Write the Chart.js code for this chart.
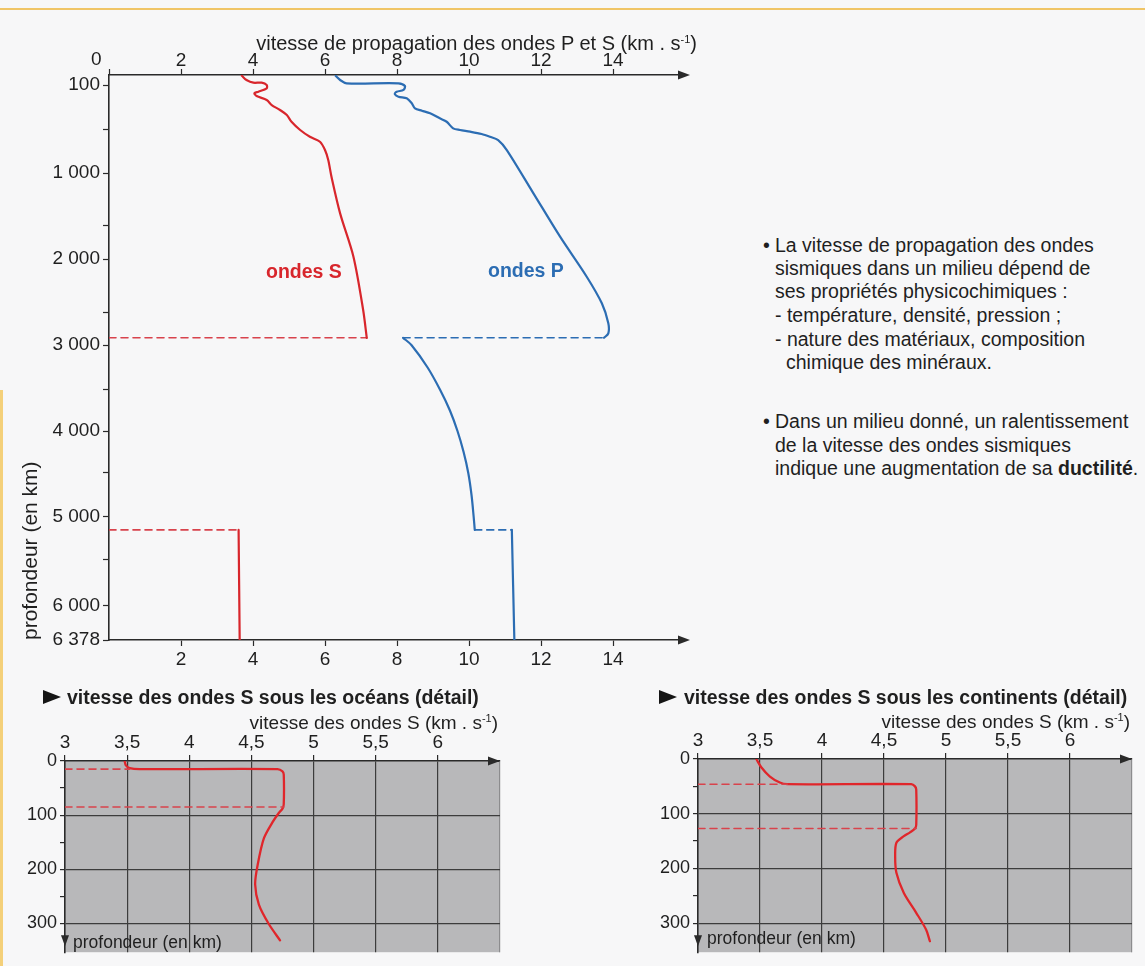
<!DOCTYPE html>
<html lang="fr">
<head>
<meta charset="utf-8">
<title>Vitesse de propagation des ondes sismiques</title>
<script src="https://cdn.jsdelivr.net/npm/chart.js@4.4.1/dist/chart.umd.min.js"></script>
<style>
  html, body { margin: 0; padding: 0; }
  body { position: relative; width: 1145px; height: 966px; overflow: hidden;
         background: #f7f7f8; font-family: "Liberation Sans", Arial, Helvetica, sans-serif; color: #1f1f1f; }
  .rule-top { position: absolute; left: 0; top: 8px; width: 1145px; height: 2px; background: #f0c566; }
  .rule-left { position: absolute; left: 0; top: 390px; width: 3px; height: 576px; background: #f4d07a; }
  canvas { position: absolute; }
  .t { position: absolute; white-space: nowrap; line-height: 24px; height: 24px; }
  .axis-title { font-size: 19px; }
  .axis-title sup { font-size: 11px; vertical-align: 7px; line-height: 0; }
  .main-title { font-size: 20px; }
  .tick { font-size: 19px; }
  .curve-label { font-size: 19.5px; font-weight: bold; }
  .panel-title { font-size: 19.5px; font-weight: bold; }
  .tri { position: absolute; width: 0; height: 0; border-left: 18px solid #151515;
         border-top: 7px solid transparent; border-bottom: 7px solid transparent; }
  .depth-note { font-size: 17.5px; }
  .note { font-size: 19.5px; }
</style>
</head>
<body>
<div class="rule-top"></div>
<div class="rule-left"></div>

<canvas id="mainChart" width="720" height="680" style="left:0;top:0"></canvas>
<canvas id="oceanChart" width="520" height="286" style="left:0;top:680px"></canvas>
<canvas id="continentChart" width="525" height="286" style="left:620px;top:680px"></canvas>

<!-- main profile texts -->
<div class="t axis-title main-title" style="right:448px;top:31px">vitesse de propagation des ondes P et S (km . s<sup>-1</sup>)</div>
<div class="t tick" style="left:91px;top:47px">0</div>
<div class="t curve-label" style="left:266px;top:259px;color:#d8262c">ondes S</div>
<div class="t curve-label" style="left:488px;top:258px;color:#2c6db3">ondes P</div>

<!-- notes -->
<div class="t note" style="left:763px;top:233px">•</div>
<div class="t note" style="left:775px;top:233px">La vitesse de propagation des ondes</div>
<div class="t note" style="left:775px;top:256px">sismiques dans un milieu dépend de</div>
<div class="t note" style="left:775px;top:279px">ses propriétés physicochimiques :</div>
<div class="t note" style="left:775px;top:303px">- température, densité, pression ;</div>
<div class="t note" style="left:775px;top:327px">- nature des matériaux, composition</div>
<div class="t note" style="left:786px;top:350px">chimique des minéraux.</div>
<div class="t note" style="left:763px;top:409px">•</div>
<div class="t note" style="left:775px;top:409px">Dans un milieu donné, un ralentissement</div>
<div class="t note" style="left:775px;top:433px">de la vitesse des ondes sismiques</div>
<div class="t note" style="left:775px;top:456px">indique une augmentation de sa <b>ductilité</b>.</div>

<!-- detail panels texts -->
<div class="tri" style="left:43px;top:690px"></div>
<div class="t panel-title" style="left:67px;top:685px">vitesse des ondes S sous les océans (détail)</div>
<div class="t axis-title" style="right:647px;top:711px">vitesse des ondes S (km . s<sup>-1</sup>)</div>
<div class="t depth-note" style="left:73px;top:930px">profondeur (en km)</div>

<div class="tri" style="left:659px;top:690px"></div>
<div class="t panel-title" style="left:684px;top:685px">vitesse des ondes S sous les continents (détail)</div>
<div class="t axis-title" style="right:15px;top:710px">vitesse des ondes S (km . s<sup>-1</sup>)</div>
<div class="t depth-note" style="left:707px;top:926px">profondeur (en km)</div>

<script>
// ---------- whole-Earth profile (depth in km, velocity in km/s) ----------
const boundaryDepths = [2891, 5150];            // core–mantle boundary, inner-core boundary

const sMantleDepth = [8, 50, 77, 77, 100, 130, 161, 175, 200, 236, 282, 327, 373, 434, 511, 588, 645, 739, 852, 1036, 1388, 1966, 2481, 2891];
const sMantleSpeed = [3.69, 3.82, 4.01, 4.24, 4.38, 4.38, 4.15, 4.04, 4.10, 4.38, 4.52, 4.75, 4.94, 5.07, 5.31, 5.58, 5.86, 6.00, 6.09, 6.18, 6.42, 6.79, 7.06, 7.16];

const sInnerDepth = [5150, 6378];
const sInnerSpeed = [3.60, 3.63];

const pMantleDepth = [10, 50, 83, 83, 109, 145, 161, 182, 206, 221, 266, 312, 334, 357, 403, 434, 494, 511, 530, 557, 588, 625, 739, 1195, 1672, 2167, 2418, 2671, 2823, 2891];
const pMantleSpeed = [6.30, 6.42, 6.60, 8.04, 8.22, 8.18, 7.99, 7.94, 8.04, 8.27, 8.41, 8.50, 8.69, 8.92, 9.19, 9.38, 9.56, 9.75, 10.03, 10.35, 10.58, 10.81, 11.05, 11.79, 12.53, 13.27, 13.69, 13.87, 13.87, 13.75];

const pOuterDepth = [2891, 3000, 3250, 3500, 3750, 4000, 4250, 4500, 4750, 5000, 5150];
const pOuterSpeed = [8.17, 8.40, 8.85, 9.20, 9.47, 9.68, 9.85, 9.98, 10.07, 10.13, 10.16];

const pInnerDepth = [5150, 6378];
const pInnerSpeed = [11.19, 11.26];

// speed ranges of the dashed discontinuity lines, one pair per boundary
const sJumpSpeeds = [[0, 7.16], [0, 3.60]];
const pJumpSpeeds = [[8.17, 13.75], [10.16, 11.19]];

const speedTicks = [0, 2, 4, 6, 8, 10, 12, 14, 16];
const speedLabels = [2, 4, 6, 8, 10, 12, 14];
const depthTicks = [100, 500, 1000, 1500, 2000, 2500, 3000, 3500, 4000, 4500, 5000, 5500, 6000, 6378];
const depthLabels = [100, 1000, 2000, 3000, 4000, 5000, 6000, 6378];

// ---------- upper-mantle details (depth in km, S velocity in km/s) ----------
const oceanDepth = [0, 8, 13, 15, 15, 19, 25, 80, 88, 96, 113, 143, 192, 228, 265, 301, 331];
const oceanSpeed = [3.48, 3.49, 3.52, 3.60, 4.71, 4.75, 4.76, 4.76, 4.75, 4.72, 4.67, 4.60, 4.55, 4.53, 4.56, 4.64, 4.73];
const oceanLayerDepths = [15, 85];
const oceanLayerSpeeds = [3.52, 4.76];

const contDepth = [0, 15, 32, 43, 46, 46, 50, 56, 120, 127, 134, 141, 153, 178, 208, 245, 281, 312, 333];
const contSpeed = [3.47, 3.51, 3.58, 3.66, 3.72, 4.72, 4.75, 4.76, 4.76, 4.75, 4.71, 4.66, 4.60, 4.59, 4.60, 4.66, 4.76, 4.84, 4.87];
const contLayerDepths = [46, 127];
const contLayerSpeeds = [3.72, 4.76];

const detailSpeedTicks = [3, 3.5, 4, 4.5, 5, 5.5, 6, 6.5];
const detailDepthTicks = [0, 50, 100, 150, 200, 250, 300];

// ---------- styling ----------
const RED = '#d8262c';
const RED_DASH = '#d8434c';
const BLUE = '#2c6db3';
const INK = '#2a2a2a';
const FONT = '"Liberation Sans", Arial, sans-serif';
Chart.defaults.font.family = FONT;
Chart.defaults.color = '#1f1f1f';

// The depth axis of the book figure is hand-spaced: each break is [depth, fraction of axis length].
const depthAxisBreaks = [[0, 0], [100, 0.0177], [500, 0.0956], [1000, 0.1735], [1500, 0.2655],
  [2000, 0.3257], [2500, 0.4195], [3000, 0.4779], [3500, 0.5575], [4000, 0.6301], [4500, 0.7044],
  [5000, 0.7823], [5500, 0.8584], [6000, 0.9398], [6378, 1]];

function depthToFraction(d) {
  const b = depthAxisBreaks;
  if (d <= b[0][0]) return 0;
  for (let i = 1; i < b.length; i++) {
    if (d <= b[i][0]) {
      const [d0, f0] = b[i - 1], [d1, f1] = b[i];
      return f0 + (f1 - f0) * (d - d0) / (d1 - d0);
    }
  }
  return 1;
}
function fractionToDepth(f) {
  const b = depthAxisBreaks;
  if (f <= 0) return 0;
  for (let i = 1; i < b.length; i++) {
    if (f <= b[i][1]) {
      const [d0, f0] = b[i - 1], [d1, f1] = b[i];
      return d0 + (d1 - d0) * (f - f0) / (f1 - f0);
    }
  }
  return b[b.length - 1][0];
}

class DepthScale extends Chart.LinearScale {
  getPixelForValue(value) {
    if (value === null || value === undefined || isNaN(value)) return NaN;
    return this.getPixelForDecimal(1 - depthToFraction(value));
  }
  getValueForPixel(pixel) {
    return fractionToDepth(1 - this.getDecimalForPixel(pixel));
  }
}
DepthScale.id = 'depth';
DepthScale.defaults = {};
Chart.register(DepthScale);

// arrowheads at the ends of the axes, and grey plotting field
const axisArrows = {
  id: 'axisArrows',
  afterDraw(chart, args, opts) {
    const { ctx, chartArea: a } = chart;
    ctx.save();
    ctx.fillStyle = INK;
    ctx.strokeStyle = INK;
    ctx.lineWidth = 1.6;
    (opts.right || []).forEach(edge => {
      const y = a[edge];
      const tip = a.right + (opts.ext || 0);
      ctx.beginPath(); ctx.moveTo(a.right - 1, y); ctx.lineTo(tip - 4, y); ctx.stroke();
      ctx.beginPath(); ctx.moveTo(tip, y); ctx.lineTo(tip - 12, y - 4.5); ctx.lineTo(tip - 12, y + 4.5); ctx.closePath(); ctx.fill();
    });
    if (opts.down) {
      const x = a.left, tip = a.bottom - 6;
      ctx.beginPath(); ctx.moveTo(x, tip); ctx.lineTo(x - 4, tip - 11); ctx.lineTo(x + 4, tip - 11); ctx.closePath(); ctx.fill();
    }
    ctx.restore();
  }
};
const plotField = {
  id: 'plotField',
  beforeDraw(chart, args, opts) {
    if (!opts.color) return;
    const { ctx, chartArea: a } = chart;
    ctx.save();
    ctx.fillStyle = opts.color;
    ctx.fillRect(a.left, a.top, a.right - a.left, a.bottom - a.top);
    ctx.restore();
  }
};
Chart.register(axisArrows, plotField);

function profile(depths, speeds, color, width, dashed) {
  return {
    data: depths.map((d, i) => ({ x: speeds[i], y: d })),
    showLine: true, borderColor: color, borderWidth: width,
    borderDash: dashed ? [7, 5] : [], pointRadius: 0, pointHoverRadius: 0,
    tension: dashed ? 0 : 0.3, fill: false, borderCapStyle: 'round', borderJoinStyle: 'round'
  };
}
function jump(depth, speedPair, color) {
  return profile([depth, depth], speedPair, color, 1.6, true);
}

const baseOptions = {
  responsive: false, animation: false, devicePixelRatio: 1, events: [],
  plugins: { legend: { display: false }, tooltip: { enabled: false } }
};

// ---------- main chart ----------
const hideEnds = ctx => (speedLabels.includes(ctx.tick.value) ? INK : 'rgba(0,0,0,0)');
new Chart(document.getElementById('mainChart'), {
  type: 'scatter',
  data: {
    datasets: [
      profile(sMantleDepth, sMantleSpeed, RED, 2.2),
      profile(sInnerDepth, sInnerSpeed, RED, 2.2),
      profile(pMantleDepth, pMantleSpeed, BLUE, 2.2),
      profile(pOuterDepth, pOuterSpeed, BLUE, 2.2),
      profile(pInnerDepth, pInnerSpeed, BLUE, 2.2),
      jump(boundaryDepths[0], sJumpSpeeds[0], RED_DASH),
      jump(boundaryDepths[1], sJumpSpeeds[1], RED_DASH),
      jump(boundaryDepths[0], pJumpSpeeds[0], BLUE),
      jump(boundaryDepths[1], pJumpSpeeds[1], BLUE)
    ]
  },
  options: {
    ...baseOptions,
    layout: { padding: { left: 0, right: 35, top: 0, bottom: 0 } },
    plugins: { ...baseOptions.plugins, axisArrows: { right: ['top', 'bottom'], ext: 5 } },
    scales: {
      x: {
        type: 'linear', position: 'top', min: 0, max: 16,
        afterFit: s => { s.height = 75; },
        afterBuildTicks: s => { s.ticks = speedTicks.map(v => ({ value: v })); },
        ticks: { font: { size: 19 }, color: '#1f1f1f', padding: -3, autoSkip: false, maxRotation: 0,
                 callback: v => (speedLabels.includes(v) ? String(v) : '') },
        grid: { drawOnChartArea: false, tickLength: 6, tickWidth: 1.2, color: INK,
                tickColor: ctx => (ctx.tick.value === 16 ? 'rgba(0,0,0,0)' : INK) },
        border: { color: INK, width: 1.6 }
      },
      x2: {
        type: 'linear', position: 'bottom', min: 0, max: 16,
        afterFit: s => { s.height = 40; },
        afterBuildTicks: s => { s.ticks = speedTicks.map(v => ({ value: v })); },
        ticks: { font: { size: 19 }, color: '#1f1f1f', padding: 2, autoSkip: false, maxRotation: 0,
                 callback: v => (speedLabels.includes(v) ? String(v) : '') },
        grid: { drawOnChartArea: false, tickLength: 6, tickWidth: 1.2, color: INK, tickColor: hideEnds },
        border: { color: INK, width: 1.6 }
      },
      y: {
        type: 'depth', position: 'left', min: 0, max: 6378,
        afterFit: s => { s.width = 109; },
        afterBuildTicks: s => { s.ticks = depthTicks.map(v => ({ value: v })); },
        ticks: { font: { size: 19 }, color: '#1f1f1f', padding: 3, autoSkip: false,
                 callback: v => {
                   if (!depthLabels.includes(v)) return '';
                   if (v < 1000) return String(v);
                   return Math.floor(v / 1000) + ' ' + String(v % 1000).padStart(3, '0');
                 } },
        grid: { drawOnChartArea: false, tickLength: 6, tickWidth: 1.2, color: INK },
        border: { color: INK, width: 1.6 },
        title: { display: true, text: 'profondeur (en km)', align: 'start', color: '#1f1f1f',
                 font: { size: 21 }, padding: { top: 19, bottom: 0 } }
      }
    }
  }
});

// ---------- detail charts ----------
function detailChart(canvasId, depths, speeds, layerDepths, layerSpeeds, box) {
  return new Chart(document.getElementById(canvasId), {
    type: 'scatter',
    data: {
      datasets: [
        jump(layerDepths[0], [3, layerSpeeds[0]], RED_DASH),
        jump(layerDepths[1], [3, layerSpeeds[1]], RED_DASH),
        profile(depths, speeds, '#e0262b', 2.3)
      ]
    },
    options: {
      ...baseOptions,
      layout: { padding: { left: 0, right: box.right, top: 0, bottom: box.bottom } },
      plugins: { ...baseOptions.plugins, plotField: { color: '#b8b8ba' },
                 axisArrows: { right: ['top'], ext: 0, down: true } },
      scales: {
        x: {
          type: 'linear', position: 'top', min: 3, max: 6.5,
          afterFit: s => { s.height = box.top; },
          afterBuildTicks: s => { s.ticks = detailSpeedTicks.map(v => ({ value: v })); },
          ticks: { font: { size: 19 }, color: '#1f1f1f', padding: 1, autoSkip: false, maxRotation: 0,
                   callback: v => (v > 6 ? '' : String(v).replace('.', ',')) },
          grid: { drawOnChartArea: true, tickLength: 6, lineWidth: 1.2,
                  color: ctx => (ctx.tick.value === 3 ? 'rgba(0,0,0,0)' : ctx.tick.value > 6 ? '#8c8c8e' : '#3c3c3c'),
                  tickColor: ctx => (ctx.tick.value > 6 ? 'rgba(0,0,0,0)' : INK) },
          border: { color: INK, width: 1.6 }
        },
        y: {
          type: 'linear', position: 'left', reverse: true, min: 0, max: 353,
          afterFit: s => { s.width = box.left; },
          afterBuildTicks: s => { s.ticks = detailDepthTicks.map(v => ({ value: v })); },
          ticks: { font: { size: 18 }, color: '#1f1f1f', padding: 3, autoSkip: false,
                   callback: v => (v % 100 === 0 ? String(v) : '') },
          grid: { drawOnChartArea: true, tickLength: 5, lineWidth: 1.2,
                  color: ctx => (ctx.tick.value % 100 === 0 && ctx.tick.value > 0 ? '#3c3c3c' : 'rgba(0,0,0,0)'),
                  tickColor: INK },
          border: { color: INK, width: 1.6 }
        }
      }
    }
  });
}

detailChart('oceanChart', oceanDepth, oceanSpeed, oceanLayerDepths, oceanLayerSpeeds,
  { left: 65, top: 81, right: 20, bottom: 11 });
detailChart('continentChart', contDepth, contSpeed, contLayerDepths, contLayerSpeeds,
  { left: 78, top: 79, right: 13, bottom: 13 });
</script>
</body>
</html>
